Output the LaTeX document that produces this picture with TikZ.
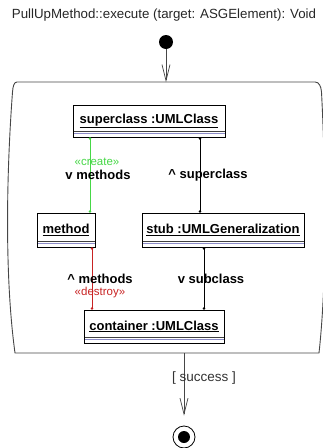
\documentclass[tikz,border=0pt]{standalone}
\usepackage{fontspec}
\setmainfont{Liberation Sans}
\usetikzlibrary{arrows.meta}
\definecolor{cgreen}{RGB}{70,215,70}
\definecolor{cred}{RGB}{200,35,35}
\definecolor{cline}{RGB}{70,70,70}
\definecolor{cblue}{RGB}{140,140,200}
\begin{document}
\begin{tikzpicture}[x=1pt,y=-1pt,
  bigfont/.style={font=\fontsize{13}{15}\selectfont},
  obj/.style={draw=black, line width=0.8pt, fill=white, inner sep=0pt,
    font=\fontsize{13}{15}\selectfont\bfseries,
    path picture={
      \draw[black!75, line width=0.6pt] ([yshift=6pt]path picture bounding box.south west) -- ([yshift=6pt]path picture bounding box.south east);
      \draw[cblue, line width=0.6pt] ([yshift=4pt]path picture bounding box.south west) -- ([yshift=4pt]path picture bounding box.south east);
    }},
  lbl/.style={font=\fontsize{13}{15}\selectfont\bfseries, inner sep=0pt},
  stereo/.style={font=\fontsize{11.5}{13}\selectfont, inner sep=0pt},
  conn/.style={line width=0.8pt, {Circle[length=2.4pt]}-{Circle[length=2.4pt]}},
  flow/.style={cline, line width=0.8pt, -{Straight Barb[length=16pt,width=8pt,line width=0.7pt]}},
  actline/.style={cline, line width=0.9pt}
]
\useasboundingbox (0,0) rectangle (323,448);

% title
\node[bigfont, text=black!85, inner sep=0pt] (title) at (164,15) {\fontsize{13.3}{15}\selectfont PullUpMethod::execute (target: ASGElement): Void};

% initial state
\node[circle, fill=black, minimum size=14pt, inner sep=0pt] (init) at (166,42) {};
\coordinate (acttop) at (166,82);

% activity outline
\draw[actline] (17,82) -- (315,82) .. controls (319,82) and (321,86) .. (321.5,92)
  .. controls (326,180) and (327,280) .. (319,353) -- (15,353)
  .. controls (5,280) and (6,180) .. (12.5,92)
  .. controls (13,86) and (14,82) .. (17,82) -- cycle;
\coordinate (actbot) at (184,353);

\draw[flow] (init) -- (acttop);

% objects
\node[obj, minimum width=152pt, minimum height=32pt] (sup) at (149,121) {\raisebox{2pt}{\underline{superclass :UMLClass}}};
\node[obj, minimum width=58pt, minimum height=34pt] (meth) at (66,230) {\raisebox{2pt}{\underline{method}}};
\node[obj, minimum width=162pt, minimum height=34pt] (stub) at (223,230) {\raisebox{2pt}{\underline{stub :UMLGeneralization}}};
\node[obj, minimum width=140pt, minimum height=33pt] (cont) at (154,326.5) {\raisebox{2pt}{\underline{container :UMLClass}}};

% connector x positions
\coordinate (xg) at (90,0);
\coordinate (xs) at (200,0);
\coordinate (xr) at (92,0);
\coordinate (xb) at (204,0);

\draw[conn, cgreen] (sup.south -| xg) -- (meth.north -| xg);
\draw[conn, black] (sup.south -| xs) -- (stub.north -| xs);
\draw[conn, cred] (meth.south -| xr) -- (cont.north -| xr);
\draw[conn, black] (stub.south -| xb) -- (cont.north -| xb);

% labels
\node[stereo, text=cgreen] (create) at (97,162) {«create»};
\node[lbl] (vmeth) at (98,175) {v methods};
\node[lbl] (usup) at (208,175) {\^{} superclass};
\node[lbl] (umeth) at (100,279) {\^{} methods};
\node[stereo, text=cred] (destroy) at (100,293) {«destroy»};
\node[lbl] (vsub) at (211,279) {v subclass};

% final state
\node[circle, draw=black, line width=0.8pt, minimum size=22pt, inner sep=0pt] (final) at (184,437) {};
\node[circle, fill=black, minimum size=12pt, inner sep=0pt] (finaldot) at (final) {};

\draw[flow, shorten >=10pt] (actbot) -- (final.north);
\node[bigfont, text=black!80, inner sep=0pt] (guard) at (204,378) {\fontsize{13.5}{15}\selectfont [ success ]};
\end{tikzpicture}
\end{document}
